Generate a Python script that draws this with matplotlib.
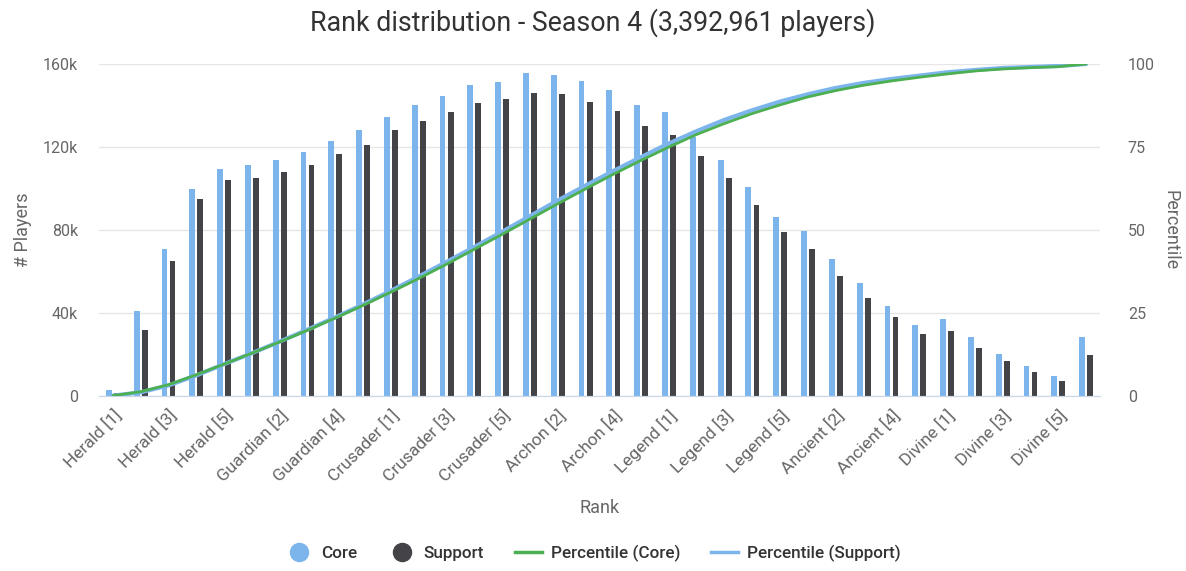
import numpy as np
from matplotlib import pyplot as plt
from matplotlib.lines import Line2D

plt.rcParams["font.family"] = ["Roboto", "DejaVu Sans"]

tiers = ["Herald", "Guardian", "Crusader", "Archon", "Legend", "Ancient", "Divine"]
ranks = [t + " [" + str(i) + "]" for t in tiers for i in range(1, 6)] + ["Immortal"]

# players per rank, in thousands
core = [2.9, 41.1, 70.8, 99.8, 109.2, 111.3, 113.6, 117.7, 122.9, 128.0,
        134.5, 140.2, 144.6, 149.7, 151.1, 155.5, 154.7, 151.8, 147.5, 140.2,
        136.7, 125.0, 113.6, 100.6, 86.1, 79.5, 65.9, 54.3, 43.5, 34.2,
        37.0, 28.3, 20.2, 14.5, 9.5, 28.3]
support = [1.5, 31.8, 65.2, 94.8, 104.0, 104.9, 107.8, 111.3, 116.5, 120.8,
           128.0, 132.4, 136.7, 141.0, 143.0, 146.0, 145.4, 141.7, 137.3, 130.0,
           125.8, 115.7, 104.9, 91.9, 78.9, 70.8, 57.8, 47.1, 38.2, 29.7,
           31.2, 23.1, 16.7, 11.6, 7.2, 19.6]

# percentile curves
pct_core = [0.1, 1.3, 3.4, 6.4, 9.6, 12.9, 16.3, 19.8, 23.5, 27.3,
            31.3, 35.4, 39.7, 44.2, 48.7, 53.3, 57.9, 62.4, 66.8, 71.0,
            75.0, 78.8, 82.1, 85.1, 87.7, 90.1, 92.0, 93.6, 94.9, 96.0,
            97.0, 97.9, 98.5, 98.9, 99.2, 100.0]
pct_support = [0.1, 1.1, 3.2, 6.2, 9.6, 12.9, 16.4, 20.0, 23.7, 27.6,
               31.7, 36.0, 40.4, 44.9, 49.5, 54.2, 58.9, 63.4, 67.8, 72.0,
               76.1, 79.8, 83.2, 86.1, 88.7, 90.9, 92.8, 94.3, 95.5, 96.5,
               97.5, 98.2, 98.8, 99.1, 99.4, 100.0]

c_core = "#7cb5ec"
c_support = "#434348"
c_pcore = "#4caf50"
c_psupport = "#7cb5ec"
grey = "#666666"

fig = plt.figure(figsize=(11.86, 5.71), dpi=100)
ax = fig.add_axes([99 / 1186, 175 / 571, 1001 / 1186, 332 / 571])
ax2 = ax.twinx()

x = np.arange(len(ranks))
w = 0.21
ax.bar(x - 0.145, np.array(core) * 1000, width=w, color=c_core, zorder=2)
ax.bar(x + 0.145, np.array(support) * 1000, width=w, color=c_support, zorder=2)

ax2.plot(x, pct_support, color=c_psupport, lw=3.0, zorder=3, solid_capstyle="round")
ax2.plot(x, pct_core, color=c_pcore, lw=2.0, zorder=4, solid_capstyle="round")

ax.set_xlim(-0.5, len(ranks) - 0.5)
ax.set_ylim(0, 160000)
ax2.set_ylim(0, 100)
ax.set_yticks([0, 40000, 80000, 120000, 160000])
ax.set_yticklabels(["0", "40k", "80k", "120k", "160k"])
ax2.set_yticks([0, 25, 50, 75, 100])

ax.set_xticks(x[::2])
ax.set_xticklabels(ranks[::2], rotation=45, ha="right", rotation_mode="anchor")

ax.grid(axis="y", color="#e6e6e6", lw=1, zorder=0)
ax.set_axisbelow(True)
for a in (ax, ax2):
    for s in ("top", "left", "right"):
        a.spines[s].set_visible(False)
    a.spines["bottom"].set_color("#ccd6eb")
    a.tick_params(length=0, colors=grey, labelsize=11.5)
ax.tick_params(axis="x", labelsize=12.5, pad=8)
ax.tick_params(axis="y", pad=15)
ax2.tick_params(axis="y", pad=20)

ax.set_ylabel("# Players", color=grey, fontsize=13, labelpad=8)
ax2.set_ylabel("Percentile", color=grey, fontsize=13, rotation=270, labelpad=18)
ax.set_xlabel("Rank", color=grey, fontsize=13, labelpad=10)

fig.suptitle("Rank distribution - Season 4 (3,392,961 players)", x=0.5, y=0.985,
             fontsize=19.3, color="#333333")

handles = [
    Line2D([], [], marker="o", ls="", color=c_core, markersize=13),
    Line2D([], [], marker="o", ls="", color=c_support, markersize=13),
    Line2D([], [], color=c_pcore, lw=2.5),
    Line2D([], [], color=c_psupport, lw=2.5),
]
labels = ["Core", "Support", "Percentile (Core)", "Percentile (Support)"]
leg = fig.legend(handles, labels, loc="center", bbox_to_anchor=(0.5, 1 - 553 / 571),
                 ncol=4, frameon=False, fontsize=12.3, handlelength=1.6,
                 columnspacing=1.8, handletextpad=0.5)
for t in leg.get_texts():
    t.set_color("#333333")
    t.set_fontweight("medium")

fig.savefig("out.png", dpi=100, facecolor="white")
